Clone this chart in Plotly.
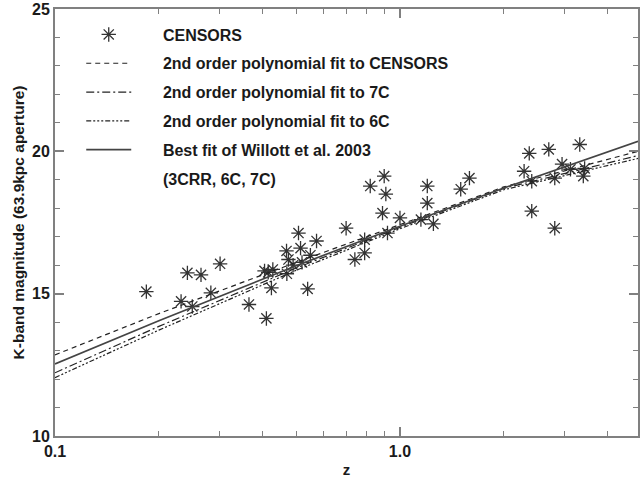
import plotly.graph_objects as go

# CENSORS data points (z, K magnitude)
censors_z = [0.184, 0.232, 0.250, 0.242, 0.265, 0.283, 0.301, 0.365, 0.410, 0.424,
             0.405, 0.415, 0.428, 0.470, 0.469, 0.475, 0.490, 0.508, 0.515, 0.550,
             0.573, 0.540, 0.520, 0.698, 0.740, 0.790, 0.790, 0.820, 0.900, 0.910,
             0.890, 0.920, 1.000, 1.150, 1.200, 1.200, 1.250, 1.500, 1.590, 2.290,
             2.370, 2.410, 2.410, 2.700, 2.810, 2.810, 2.950, 3.120, 3.320, 3.430,
             3.400]
censors_k = [15.07, 14.73, 14.55, 15.73, 15.66, 15.03, 16.05, 14.62, 14.13, 15.20,
             15.80, 15.75, 15.85, 15.70, 16.50, 16.20, 16.00, 17.13, 16.60, 16.35,
             16.85, 15.17, 16.10, 17.30, 16.20, 16.90, 16.43, 18.78, 19.13, 18.50,
             17.83, 17.13, 17.66, 17.60, 18.78, 18.18, 17.45, 18.67, 19.06, 19.30,
             19.93, 18.95, 17.90, 20.07, 17.30, 19.06, 19.55, 19.37, 20.24, 19.40,
             19.13]

# Fitted curves read at a few redshifts
fit_z = [0.1, 0.2, 0.5, 1.0, 2.0, 4.9]
fit_censors = [12.85, 14.30, 16.10, 17.42, 18.75, 20.00]
fit_7c = [12.22, 13.85, 15.90, 17.33, 18.70, 19.85]
fit_6c = [12.05, 13.72, 15.82, 17.28, 18.65, 19.75]
fit_willott = [12.53, 14.05, 15.98, 17.37, 18.71, 20.35]

x_tickvals = [0.1, 1.0]
x_ticktext = ["0.1", "1.0"]
x_minor = [0.2, 0.3, 0.4, 0.5, 0.6, 0.7, 0.8, 0.9, 2, 3, 4]
y_tickvals = [10, 15, 20, 25]
y_ticktext = ["10", "15", "20", "25"]
y_minor = [11, 12, 13, 14, 16, 17, 18, 19, 21, 22, 23, 24]

FONT = "Liberation Sans, Arial, Helvetica, sans-serif"
TXT = "#1a1a1a"
AX = "#808080"
pad = "\u00a0" * 6

fig = go.Figure()
fig.add_trace(go.Scatter(
    x=censors_z, y=censors_k, mode="markers", name=pad + "CENSORS",
    legendgroup="a",
    marker=dict(symbol="asterisk-open", size=12, color="#333333",
                line=dict(color="#333333", width=1.3))))
fig.add_trace(go.Scatter(
    x=fit_z, y=fit_censors, mode="lines", legendgroup="b",
    name=pad + "2nd order polynomial fit to CENSORS",
    line=dict(color="#222222", width=1.2, dash="5px,4px")))
fig.add_trace(go.Scatter(
    x=fit_z, y=fit_7c, mode="lines", legendgroup="c",
    name=pad + "2nd order polynomial fit to 7C",
    line=dict(color="#222222", width=1.2, dash="8px,3px,2px,3px")))
fig.add_trace(go.Scatter(
    x=fit_z, y=fit_6c, mode="lines", legendgroup="d",
    name=pad + "2nd order polynomial fit to 6C",
    line=dict(color="#222222", width=1.2, dash="5px,2px,2px,2px,2px,2px,2px,2px")))
fig.add_trace(go.Scatter(
    x=fit_z, y=fit_willott, mode="lines", legendgroup="e",
    name=pad + "Best fit of Willott et al. 2003",
    line=dict(color="#444444", width=1.7)))
fig.add_trace(go.Scatter(
    x=[None], y=[None], mode="lines", legendgroup="f",
    name=pad + "(3CRR, 6C, 7C)",
    line=dict(color="rgba(0,0,0,0)", width=0)))

fig.update_layout(
    width=641, height=478,
    margin=dict(l=55, r=1, t=7, b=42),
    paper_bgcolor="white", plot_bgcolor="white",
    font=dict(family=FONT, size=16, color=TXT, weight="bold"),
    showlegend=True,
    legend=dict(x=0.045, y=0.98, xanchor="left", yanchor="top",
                bgcolor="rgba(0,0,0,0)", borderwidth=0,
                font=dict(family=FONT, size=16, color=TXT, weight="bold"),
                itemwidth=45, tracegroupgap=5, valign="middle"),
)
fig.update_xaxes(
    type="log", range=[-1, 0.690],
    tickmode="array", tickvals=x_tickvals, ticktext=x_ticktext,
    ticks="inside", ticklen=9, tickwidth=1.5, tickcolor=AX,
    minor=dict(tickvals=x_minor, ticks="inside", ticklen=5, tickwidth=1.2, tickcolor=AX),
    showline=True, linecolor=AX, linewidth=2, mirror="ticks",
    showgrid=False, zeroline=False, ticklabeloverflow="allow",
    tickfont=dict(family=FONT, size=16, color=TXT, weight="bold"),
    title=dict(text="z", font=dict(family=FONT, size=15, color=TXT, weight="bold"), standoff=6),
)
fig.update_yaxes(
    range=[10, 25],
    tickmode="array", tickvals=y_tickvals, ticktext=y_ticktext,
    ticks="inside", ticklen=9, tickwidth=1.5, tickcolor=AX,
    minor=dict(tickvals=y_minor, ticks="inside", ticklen=5, tickwidth=1.2, tickcolor=AX),
    showline=True, linecolor=AX, linewidth=2, mirror="ticks",
    showgrid=False, zeroline=False, ticklabeloverflow="allow",
    tickfont=dict(family=FONT, size=16, color=TXT, weight="bold"),
    title=dict(text="K-band magnitude (63.9kpc aperture)",
               font=dict(family=FONT, size=15.5, color=TXT, weight="bold"), standoff=4),
)

fig.write_html("out.html")
